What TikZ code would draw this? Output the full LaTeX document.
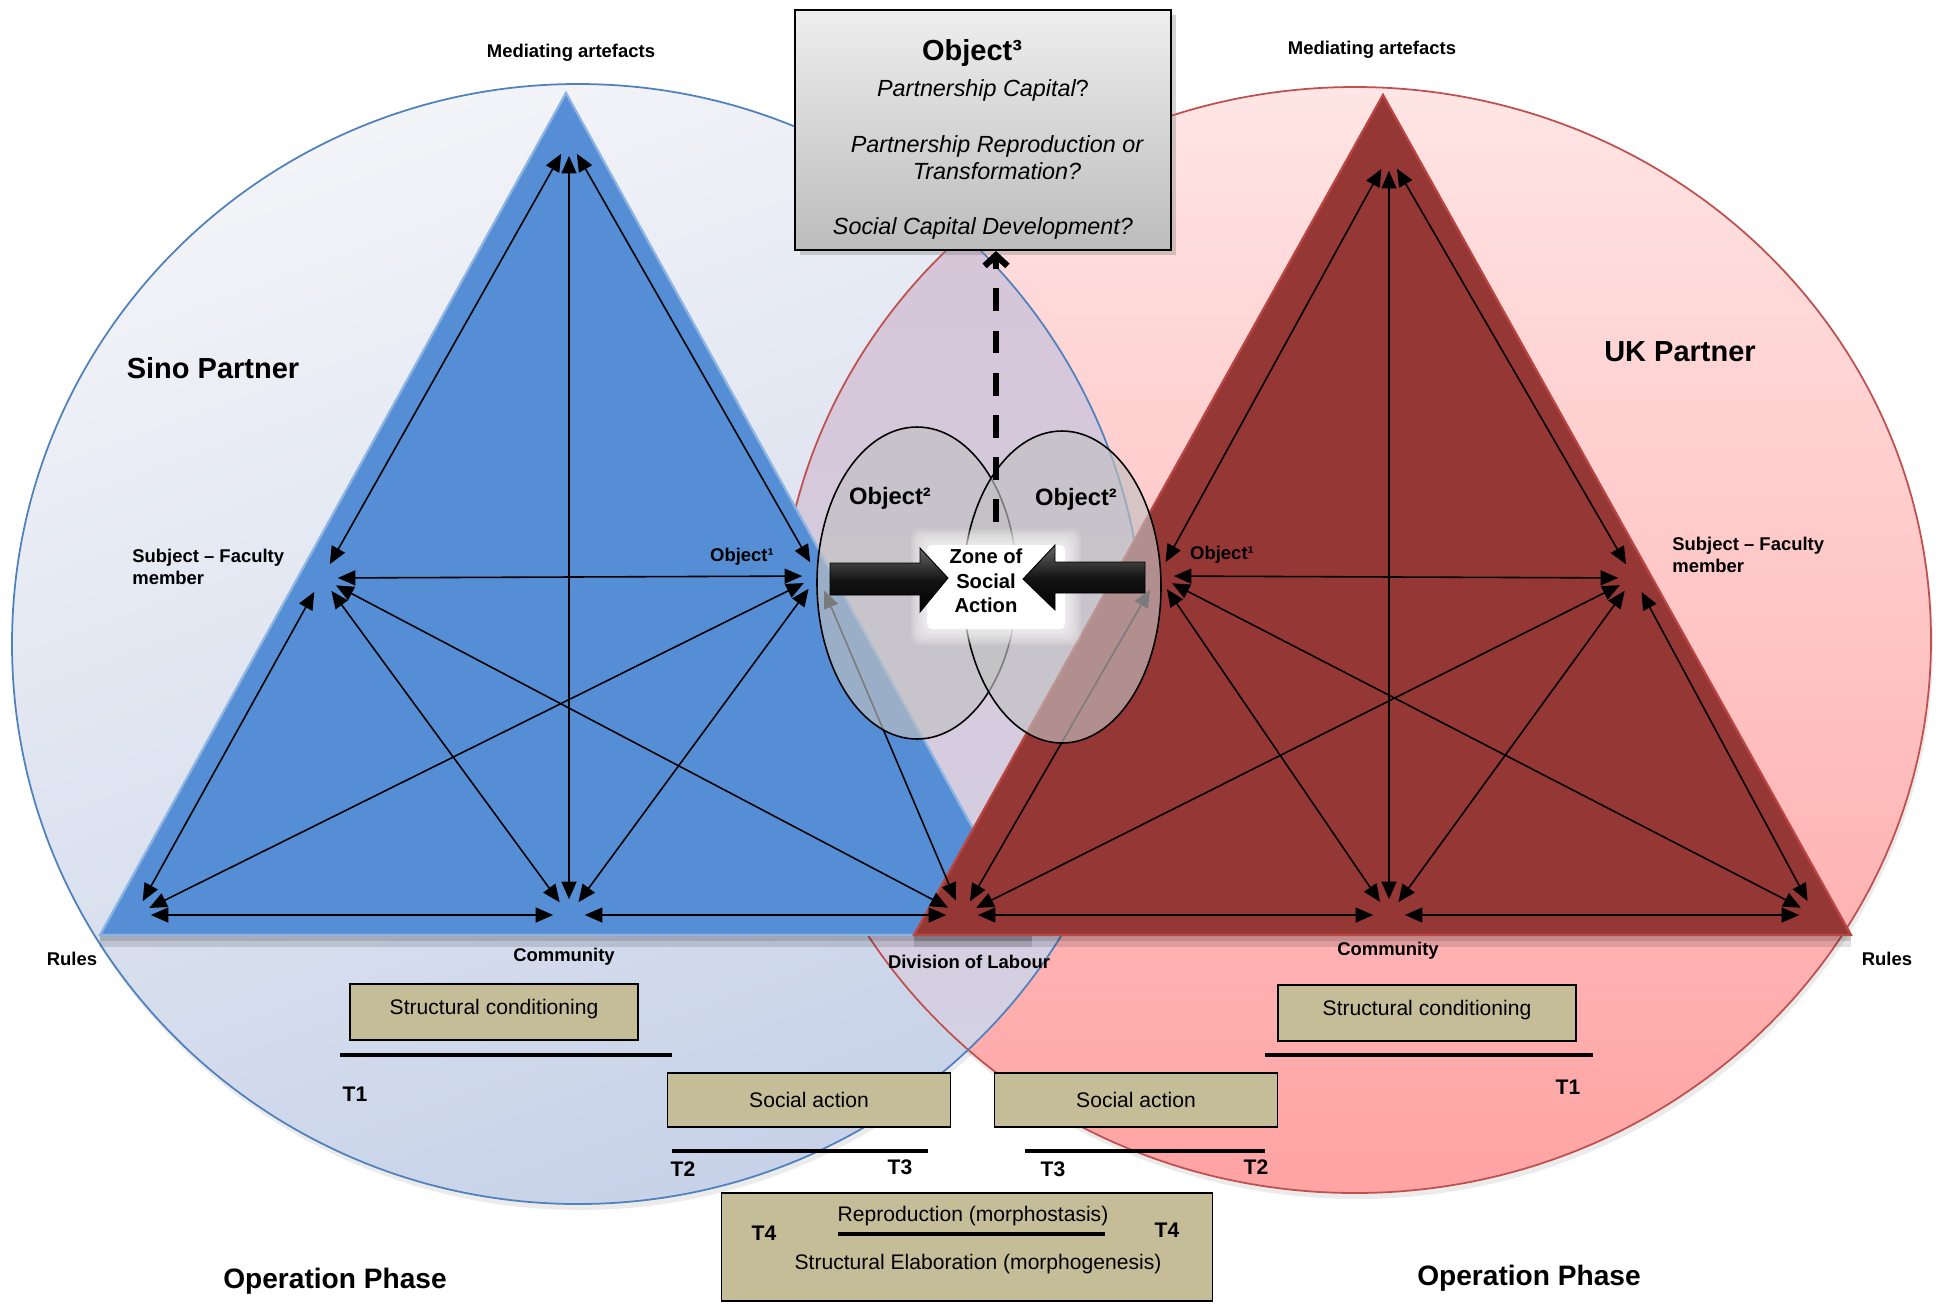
\documentclass[tikz,border=0pt]{standalone}
\usepackage{fontspec}
\setmainfont{Liberation Sans}
\usetikzlibrary{arrows.meta,calc,positioning,shadows}

\definecolor{sinotop}{HTML}{F3F4F8}
\definecolor{sinobottom}{HTML}{C7D2E8}
\definecolor{sinoring}{HTML}{4F81BD}
\definecolor{sinofill}{HTML}{558ED5}
\definecolor{sinoedge}{HTML}{8DB4E2}
\definecolor{uktop}{HTML}{FFE5E5}
\definecolor{ukbottom}{HTML}{FFA3A3}
\definecolor{ukring}{HTML}{C0504D}
\definecolor{ukfill}{HTML}{953735}
\definecolor{ukedge}{HTML}{B94643}
\definecolor{mixtop}{HTML}{D7C3D6}
\definecolor{mixbottom}{HTML}{D3D3E5}
\definecolor{lensgray}{HTML}{C1C1C1}
\definecolor{stagetan}{HTML}{C4BD97}
\definecolor{objtop}{HTML}{EEEEEE}
\definecolor{objbottom}{HTML}{BCBCBC}

\tikzset{
  link/.style={<->,>={Triangle[length=10pt,width=8.5pt]},line width=0.9pt,
    shorten <=9pt,shorten >=9pt},
  corner/.style={font=\fontsize{10.5}{12.5}\selectfont\bfseries,inner sep=0pt},
  partner/.style={font=\fontsize{16.5}{20}\selectfont\bfseries,inner sep=0pt},
  objlabel/.style={font=\fontsize{13.5}{16}\selectfont\bfseries,inner sep=0pt},
  question/.style={font=\fontsize{13.3}{15.4}\selectfont\itshape,inner sep=0pt,align=center},
  stagebox/.style={draw,line width=0.9pt,fill=stagetan,inner sep=0pt,
    font=\fontsize{12}{14}\selectfont},
  stagetext/.style={font=\fontsize{12}{14}\selectfont,inner sep=0pt},
  tmark/.style={font=\fontsize{12}{14}\selectfont\bfseries,inner sep=0pt},
  timeline/.style={line width=2.3pt},
  lens/.style={draw=black,line width=0.9pt,fill=lensgray,fill opacity=0.64},
  blockarrow/.style={draw=black,line width=0.5pt,top color=black!60,bottom color=black,
    middle color=black!92},
  dasharrow/.style={line width=3.6pt,dash pattern=on 13pt off 11pt,
    -{Straight Barb[length=6pt,width=13pt]}},
}

\begin{document}
\begin{tikzpicture}[x=0.02cm,y=-0.02cm]
\useasboundingbox (0,0) rectangle (1941,1303);

% Activity system circles
\fill[black,opacity=0.08] (1357,646) ellipse (576 and 553);
\fill[black,opacity=0.08] (580,650) ellipse (566 and 560);
\shade[top color=uktop,bottom color=ukbottom] (1355,640) ellipse (576 and 553);
\shade[top color=sinotop,bottom color=sinobottom,shading angle=20] (578,644) ellipse (566 and 560);
\begin{scope}
  \clip (578,644) ellipse (566 and 560);
  \shade[top color=mixtop,bottom color=mixbottom] (1355,640) ellipse (576 and 553);
\end{scope}
\draw[ukring,line width=1pt] (1355,640) ellipse (576 and 553);
\draw[sinoring,line width=1pt] (578,644) ellipse (566 and 560);

% Triangles
\fill[black,opacity=0.12] (100,935) rectangle (1032,947);
\fill[black,opacity=0.12] (100,935) rectangle (1032,941);
\filldraw[fill=sinofill,draw=sinoedge,line width=1.3pt] (566,93) -- (100,935) -- (1032,935) -- cycle;
\fill[black,opacity=0.12] (914,935) rectangle (1851,947);
\fill[black,opacity=0.12] (914,935) rectangle (1851,941);
\filldraw[fill=ukfill,draw=ukedge,line width=1.3pt] (1383,95) -- (914,935) -- (1851,935) -- cycle;

% Corners of the two activity systems
\coordinate (sa) at (569,140);
\coordinate (ss) at (322,578);
\coordinate (so) at (818,576);
\coordinate (sr) at (135,915);
\coordinate (sc) at (569,915);
\coordinate (sd) at (962,915);
\coordinate (ua) at (1389,155);
\coordinate (uo) at (1158,576);
\coordinate (us) at (1634,578);
\coordinate (ur) at (1815,915);
\coordinate (uc) at (1389,915);
\coordinate (ud) at (962,915);

\foreach \sys in {s,u}
  \foreach \a/\b in {a/s,a/o,a/c,s/o,s/r,s/c,s/d,o/r,o/c,o/d,r/c,c/d}
    \draw[link] (\sys\a) -- (\sys\b);

% Object 2 ellipses
\draw[lens] (917,583) ellipse (100 and 156);
\draw[lens] (1062,587) ellipse (99 and 156);
\node[objlabel] (obj2L) at (890,498) {Object²};
\node[objlabel] (obj2R) at (1076,499) {Object²};

% Zone of social action
\foreach \g in {2,4,...,16}
  \fill[white,opacity=0.13,rounded corners=5pt] (927-\g,545-\g) rectangle (1065+\g,629+\g);
\fill[white,rounded corners=3pt] (927,545) rectangle (1065,629);
\node[font=\fontsize{11.5}{13.8}\selectfont\bfseries,align=center,inner sep=0pt] (zone) at (986,581) {Zone of\\Social\\Action};
\draw[blockarrow] (830,563) -- (920,563) -- (920,548) -- (948,578) -- (920,612) -- (920,595) -- (830,595) -- cycle;
\draw[blockarrow] (1145,562) -- (1055,562) -- (1055,545) -- (1023,579) -- (1055,610) -- (1055,593) -- (1145,593) -- cycle;

% Object 3
\node[draw,line width=1.2pt,top color=objtop,bottom color=objbottom,
  minimum width=7.52cm,minimum height=4.8cm,
  drop shadow={opacity=0.35,shadow xshift=3pt,shadow yshift=-3pt}] (obj3) at (983,130) {};
\node[font=\fontsize{16.5}{20}\selectfont\bfseries,inner sep=0pt] (obj3title) at (972,53) {Object³};
\node[question] (capital) at (983,90) {Partnership Capital\upshape?};
\node[question] (reprod) at (997,158) {Partnership Reproduction or\\Transformation?};
\node[question] (social) at (983,228) {Social Capital Development?};
\coordinate (dashfoot) at (996,522);
\draw[dasharrow] (dashfoot) -- (dashfoot |- obj3.south);

% Labels
\node[corner] (medL) at (571,53) {Mediating artefacts};
\node[corner] (medR) at (1372,50) {Mediating artefacts};
\node[partner] (sino) at (213,368) {Sino Partner};
\node[partner] (uk) at (1680,352) {UK Partner};
\node[corner,align=left,anchor=west] (subjL) at (132,567) {Subject – Faculty\\member};
\node[corner,align=left,anchor=west] (subjR) at (1672,555) {Subject – Faculty\\member};
\node[corner] (obj1L) at (742,557) {Object¹};
\node[corner] (obj1R) at (1222,555) {Object¹};
\node[corner] (rulesL) at (72,959) {Rules};
\node[corner] (rulesR) at (1887,959) {Rules};
\node[corner] (commL) at (564,957) {Community};
\node[corner] (commR) at (1388,951) {Community};
\node[corner] (labour) at (969,962) {Division of Labour};

% Morphogenetic cycle
\node[stagebox,minimum width=5.76cm,minimum height=1.12cm,text depth=0.6em] (condL) at (494,1012) {Structural conditioning};
\node[stagebox,minimum width=5.96cm,minimum height=1.12cm,text depth=0.6em] (condR) at (1427,1013) {Structural conditioning};
\node[stagebox,minimum width=5.66cm,minimum height=1.08cm] (actL) at (809,1100) {Social action};
\node[stagebox,minimum width=5.66cm,minimum height=1.08cm] (actR) at (1136,1100) {Social action};
\node[stagebox,minimum width=9.82cm,minimum height=2.16cm] (morph) at (967,1247) {};
\node[stagetext] (repro) at (973,1216) {Reproduction (morphostasis)};
\node[stagetext] (elab) at (978,1264) {Structural Elaboration (morphogenesis)};

\draw[timeline] (340,1055) -- (672,1055);
\draw[timeline] (1265,1055) -- (1593,1055);
\draw[timeline] (672,1151) -- (928,1151);
\draw[timeline] (1025,1151) -- (1265,1151);
\draw[timeline] (838,1234) -- (1105,1234);

\node[tmark] (t1L) at (355,1094) {T1};
\node[tmark] (t1R) at (1568,1087) {T1};
\node[tmark] (t2L) at (683,1169) {T2};
\node[tmark] (t3L) at (900,1167) {T3};
\node[tmark] (t3R) at (1053,1169) {T3};
\node[tmark] (t2R) at (1256,1167) {T2};
\node[tmark] (t4L) at (764,1233) {T4};
\node[tmark] (t4R) at (1167,1230) {T4};

\node[partner,font=\fontsize{16}{19}\selectfont\bfseries] (phaseL) at (335,1281) {Operation Phase};
\node[partner,font=\fontsize{16}{19}\selectfont\bfseries] (phaseR) at (1529,1278) {Operation Phase};
\end{tikzpicture}
\end{document}
